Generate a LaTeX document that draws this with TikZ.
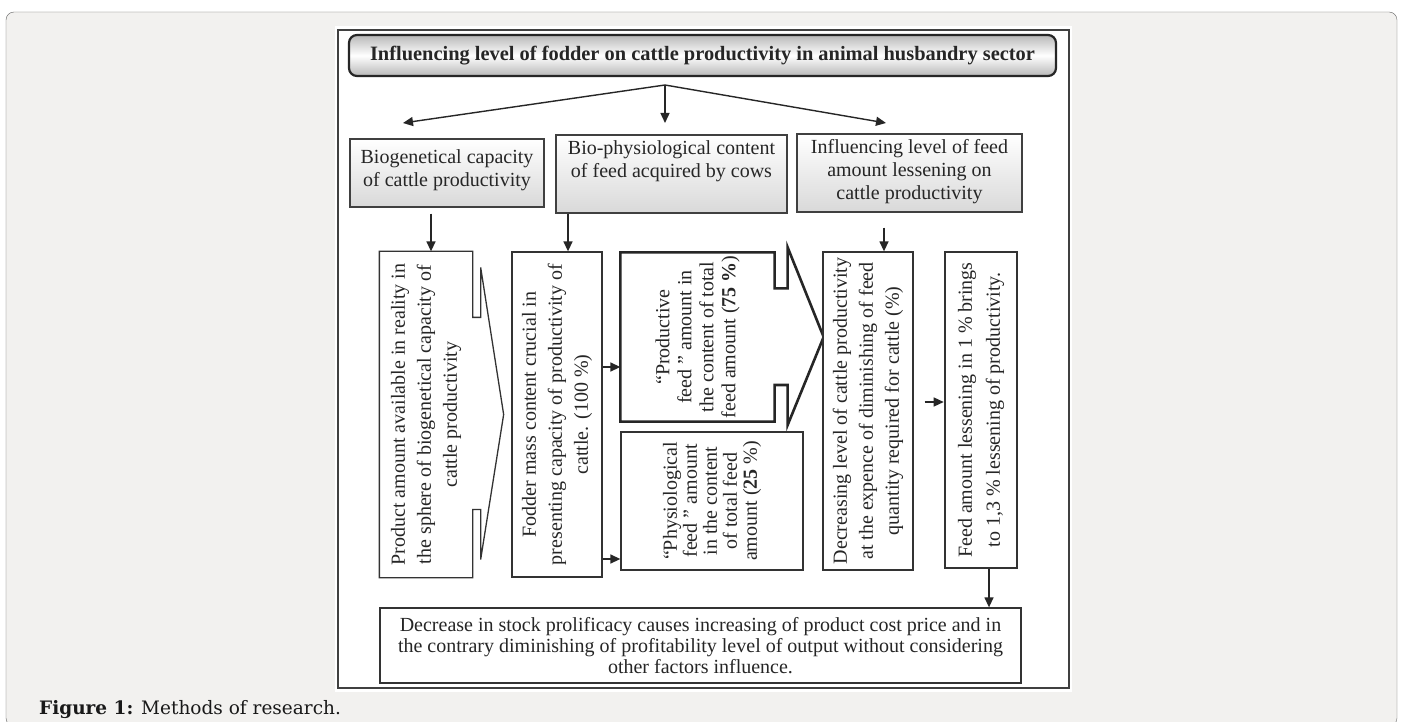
\documentclass[tikz,border=0pt]{standalone}
\usepackage{fontspec}
\setmainfont{Liberation Serif}
\newfontfamily\capfont{DejaVu Serif}
\usetikzlibrary{arrows.meta, shapes}

\newcommand{\vlines}[2]{\rotatebox{90}{\parbox{#1}{\centering #2}}}

\begin{document}
\begin{tikzpicture}[x=1pt, y=-1pt,
  con/.style={-{Triangle[length=10pt, width=9pt]}, line width=1.4pt, black!85},
  hdr/.style={draw=black!75, line width=1.3pt, top color=white, bottom color=black!15,
    text=black!85, align=center, inner sep=2pt, font=\fontsize{20}{23}\selectfont},
  vbox/.style={draw=black!80, line width=1.3pt, fill=white, text=black!85, inner sep=0pt,
    font=\fontsize{20}{26}\selectfont},
  thickbox/.style={vbox, line width=2.6pt}]
  \useasboundingbox (0,0) rectangle (1403,722);
  \fill[white] (0,0) rectangle (1403,722);
  \draw[black!60, fill={rgb,255:red,242;green,241;blue,239}, rounded corners=8] (6,12) rectangle (1397,726);
  \fill[white] (335,26) rectangle (1072,692);
  \draw[black!75, line width=1.6pt] (338,30) rectangle (1069,688);

  \node[draw=black!85, line width=2.2pt, rounded corners=8, minimum width=707, minimum height=41,
    top color=black!28, bottom color=black!28, middle color=white, inner sep=0pt,
    font=\fontsize{20.4}{23}\selectfont\bfseries, text=black!85] (title) at (702.5,55.5)
    {Influencing level of fodder on cattle productivity in animal husbandry sector};

  \node[hdr, minimum width=194, minimum height=68, text depth=9pt] (hdrA) at (447,173)
    {Biogenetical capacity\\ of cattle productivity};
  \node[hdr, minimum width=231, minimum height=78, text depth=30pt] (hdrB) at (671.5,174)
    {Bio-physiological content\\ of feed acquired by cows};
  \node[hdr, minimum width=225, minimum height=78, text depth=8pt] (hdrC) at (909.5,173)
    {Influencing level of feed\\ amount lessening on\\ cattle productivity};

  \coordinate (fork) at (665,85);
  \coordinate (tipA) at (403,123);
  \coordinate (tipB) at (665,123);
  \coordinate (tipC) at (886,123);
  \draw[con] (fork) -- (tipA);
  \draw[con] (fork) -- (tipB);
  \draw[con] (fork) -- (tipC);

  \node[vbox, draw=none, minimum width=92, minimum height=325] (prod) at (426,414.5)
    {\vlines{312pt}{Product amount available in reality in\\ the sphere of biogenetical capacity of\\ cattle productivity}};
  \draw[black!80, line width=1.3pt] (prod.north west) -- (prod.north east) -- ++(0,66) -- ++(8,0)
    -- ++(0,-50) -- ([xshift=31]prod.east) -- ++(-23,145) -- ++(0,-50) -- ++(-8,0)
    -- (prod.south east) -- (prod.south west) -- cycle;
  \node[vbox, minimum width=90, minimum height=325] (fodder) at (557,414.5)
    {\vlines{312pt}{Fodder mass content crucial in\\ presenting capacity of productivity of\\ cattle. (100 \%)}};
  \node[vbox, draw=none, minimum width=153, minimum height=168, font=\fontsize{20}{22}\selectfont] (prodfeed) at (697.5,337)
    {\vlines{165pt}{“Productive\\ feed ” amount in\\ the content of total\\ feed amount (\textbf{75 \%})}};
  \draw[black!85, line width=2.6pt] (prodfeed.north west) -- (prodfeed.north east) -- ++(0,36) -- ++(13,0)
    -- ++(0,-41) -- ([xshift=49]prodfeed.east) -- ++(-36,88) -- ++(0,-40) -- ++(-13,0)
    -- (prodfeed.south east) -- (prodfeed.south west) -- cycle;
  \node[vbox, minimum width=182, minimum height=138, font=\fontsize{20}{20}\selectfont] (physfeed) at (712,501)
    {\vlines{136pt}{“Physiological\\ feed ” amount\\ in the content\\ of total feed\\ amount (\textbf{25} \%)}};
  \node[vbox, minimum width=90, minimum height=318] (decr) at (868,411)
    {\vlines{310pt}{Decreasing level of cattle productivity\\ at the expence of diminishing of feed\\ quantity required for cattle (\%)}};
  \node[thickbox, minimum width=72, minimum height=316, font=\fontsize{20}{28}\selectfont] (lessen) at (981,410)
    {\vlines{308pt}{Feed amount lessening in 1 \% brings\\ to 1,3 \% lessening of productivity.}};
  \node[vbox, minimum width=641, minimum height=75, align=center, font=\fontsize{20}{21}\selectfont] (result) at (700.5,645.5)
    {Decrease in stock prolificacy causes increasing of product cost price and in\\
     the contrary diminishing of profitability level of output without considering\\
     other factors influence.};

  \draw[con, shorten <=6] ([xshift=5]prod.north |- hdrA.south) -- ([xshift=5]prod.north);
  \draw[con] ([xshift=11]fodder.north |- hdrB.south) -- ([xshift=11]fodder.north);
  \draw[con, shorten <=15] ([xshift=16]decr.north |- hdrC.south) -- ([xshift=16]decr.north);
  \draw[con] ([yshift=47.5]fodder.east) -- ([yshift=47.5]fodder.east -| prodfeed.west);
  \draw[con] ([yshift=-144.5]fodder.east) -- ([yshift=-144.5]fodder.east -| physfeed.west);
  \draw[con, shorten <=11] ([yshift=9]decr.east) -- ([yshift=9]decr.east -| lessen.west);
  \draw[con] ([xshift=8]lessen.south) -- ([xshift=8]lessen.south |- result.north);

  \node[anchor=west, inner sep=0pt, font=\capfont\fontsize{18.5}{22}\selectfont, text=black!90] (caption) at (39,710)
    {\textbf{Figure 1:} Methods of research.};
\end{tikzpicture}
\end{document}
